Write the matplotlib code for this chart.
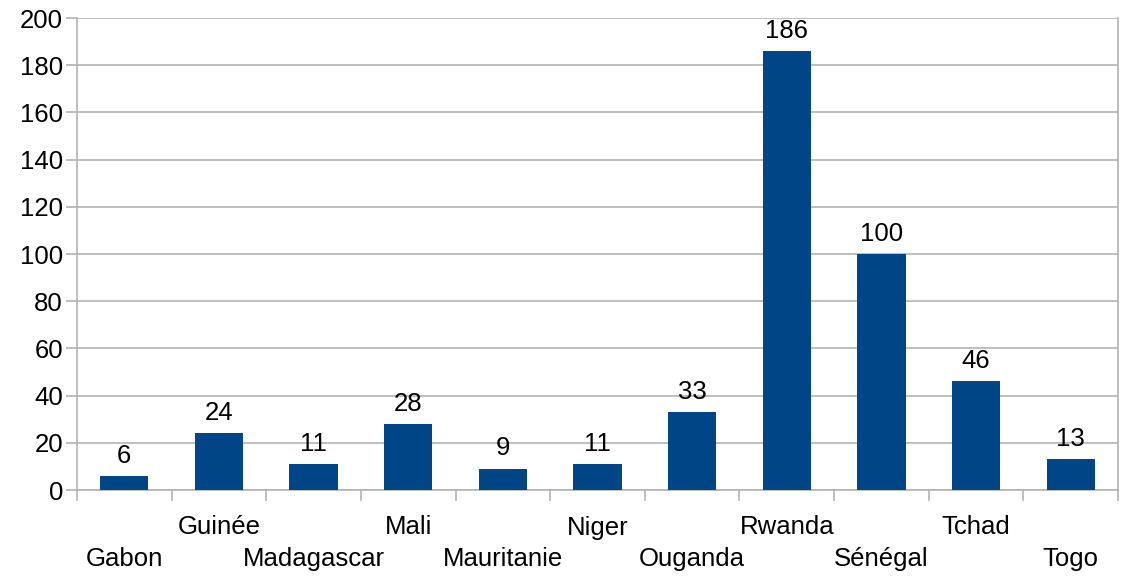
import numpy as np
import matplotlib.pyplot as plt

plt.rcParams['font.family'] = ['Liberation Sans', 'DejaVu Sans']

countries = ['Gabon', 'Guinée', 'Madagascar', 'Mali', 'Mauritanie', 'Niger',
             'Ouganda', 'Rwanda', 'Sénégal', 'Tchad', 'Togo']
values = [6, 24, 11, 28, 9, 11, 33, 186, 100, 46, 13]

bar_color = '#004586'
grid_color = '#b3b3b3'
fs = 18.5

fig = plt.figure(figsize=(11.27, 5.77), dpi=100)
ax = fig.add_axes([77 / 1127, 1 - 490 / 577, (1118 - 77) / 1127, (490 - 18) / 577])

x = np.arange(len(countries))
bars = ax.bar(x, values, width=0.51, color=bar_color, zorder=3)

# value labels above bars
for xi, v in zip(x, values):
    ax.annotate(str(v), (xi, v), xytext=(0, 6), textcoords='offset points',
                ha='center', va='bottom', fontsize=fs)

ax.set_xlim(-0.5, len(countries) - 0.5)
ax.set_ylim(0, 200)
ax.set_yticks(np.arange(0, 201, 20))
ax.yaxis.grid(True, color=grid_color, linewidth=1.2, zorder=0)
ax.tick_params(axis='y', length=8, width=1.2, color=grid_color, labelsize=fs, pad=2)

# category boundary ticks, labels staggered in two rows
ax.set_xticks(np.arange(-0.5, len(countries), 1.0))
ax.set_xticklabels([])
ax.tick_params(axis='x', length=8, width=1.2, color=grid_color)
for i, name in enumerate(countries):
    off = -27 if i % 2 else -50
    ax.annotate(name, (i, 0), xycoords=('data', 'axes fraction'),
                xytext=(0, off), textcoords='offset points',
                ha='center', va='center', fontsize=fs, annotation_clip=False)

for side in ['left', 'right', 'bottom']:
    ax.spines[side].set_color(grid_color)
    ax.spines[side].set_linewidth(1.2)
ax.spines['top'].set_visible(False)

fig.savefig('out.png', dpi=100)
